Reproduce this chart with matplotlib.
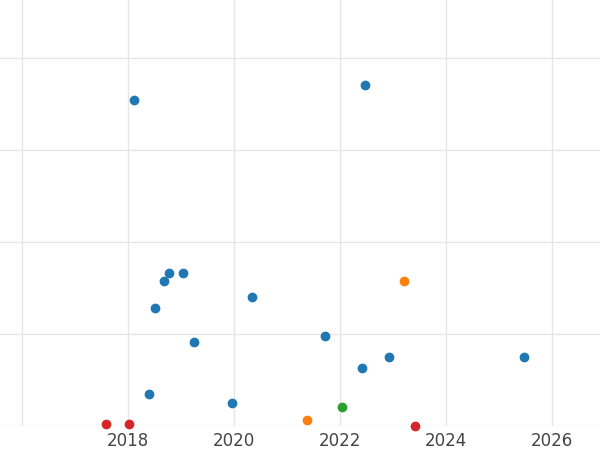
import matplotlib
matplotlib.use("Agg")
import matplotlib.pyplot as plt

blue_x = [2018.11, 2022.47, 2018.77, 2019.04, 2018.68, 2020.34, 2018.51, 2019.25, 2021.72, 2022.92, 2025.47, 2022.42, 2018.40, 2019.96]
blue_y = [3.54, 3.71, 1.66, 1.66, 1.58, 1.40, 1.28, 0.91, 0.98, 0.75, 0.75, 0.63, 0.35, 0.25]
orange_x = [2023.21, 2021.38]
orange_y = [1.58, 0.07]
green_x = [2022.04]
green_y = [0.21]
red_x = [2017.58, 2018.02, 2023.42]
red_y = [0.02, 0.02, 0.0]
xticks = [2018, 2020, 2022, 2024, 2026]

fig = plt.figure(figsize=(6, 4.5), dpi=100)
ax = fig.add_axes([0, 24/450, 1, 426/450])
for xs, ys, c in [(blue_x, blue_y, "#1f77b4"), (orange_x, orange_y, "#ff7f0e"),
                  (green_x, green_y, "#2ca02c"), (red_x, red_y, "#d62728")]:
    ax.scatter(xs, ys, s=36, color=c, zorder=3, clip_on=False)
ax.set_xlim(2015.585, 2026.906)
ax.set_ylim(0, 4.63)
ax.set_xticks([2016] + xticks)
ax.set_xticklabels([""] + [str(t) for t in xticks])
ax.set_yticks([0, 1, 2, 3, 4])
ax.set_yticklabels([])
ax.grid(True, color="#e6e6e6", linewidth=1)
ax.set_axisbelow(True)
for s in ax.spines.values():
    s.set_visible(False)
ax.tick_params(length=0, labelsize=12, labelcolor="#444444", pad=4)
fig.savefig("out.png", dpi=100)
